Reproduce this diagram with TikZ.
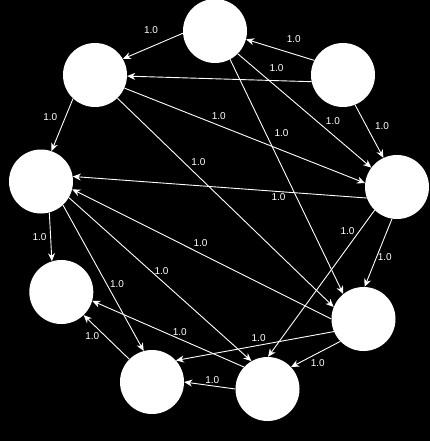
\documentclass[tikz,border=0pt]{standalone}
\usepackage{fontspec}
\setmainfont{Liberation Sans}
\usetikzlibrary{arrows.meta}

\begin{document}
\begin{tikzpicture}[x=1pt, y=-1pt
    ,vertex/.style={circle, fill=white, minimum size=64pt, inner sep=0pt}
    ,lbl/.style={font=\fontsize{10}{12}\selectfont, inner sep=0pt}
    ,arr/.style={white, line width=0.9pt, -{Stealth[length=8pt,width=7pt,inset=2.5pt]}}]
\useasboundingbox (0,0) rectangle (430,441);
\fill[black] (0,0) rectangle (430,441);

\node[vertex] (n1) at (215,31) {};
\node[vertex] (n2) at (95,75) {};
\node[vertex] (n3) at (343,75) {};
\node[vertex] (n4) at (41,181.5) {};
\node[vertex] (n5) at (397,187) {};
\node[vertex] (n6) at (61.3,292) {};
\node[vertex] (n7) at (363.5,319) {};
\node[vertex] (n8) at (152,382) {};
\node[vertex] (n9) at (267.5,389) {};

  \path[arr]
    (n3.153) edge node[lbl, pos=.36, xshift=4pt, yshift=14pt] {1.0} (n1.345)
    (n1.184) edge node[lbl, pos=.43, xshift=-6pt, yshift=14.5pt] {1.0} (n2.30)
    (n3.192) edge node[lbl, pos=.19, yshift=12.5pt] {1.0} (n2.358)
    (n2.227) edge node[lbl, pos=.45, xshift=-13pt, yshift=5pt] {1.0} (n4.71)
    (n2.336) edge node[lbl, pos=.38, xshift=3pt, yshift=8pt] {1.0} (n5.173)
    (n1.315) edge node[lbl, pos=.66, xshift=7pt, yshift=8pt] {1.0} (n5.143)
    (n3.292) edge node[lbl, pos=.53, xshift=12pt, yshift=6.5pt] {1.0} (n5.115)
    (n5.200) edge node[lbl, pos=.30, yshift=-5.5pt] {1.0} (n4.9)
    (n1.298) edge node[lbl, pos=.34, xshift=13pt, yshift=6.5pt] {1.0} (n7.129)
    (n2.314) edge node[lbl, pos=.34, xshift=7.5pt, yshift=7.5pt] {1.0} (n7.158)
    (n5.226) edge node[lbl, pos=.18, xshift=-8pt, yshift=6pt] {1.0} (n9.89)
    (n5.261) edge node[lbl, pos=.52, xshift=7pt, yshift=-3pt] {1.0} (n7.88)
    (n4.285) edge node[lbl, pos=.50, xshift=-11pt] {1.0} (n6.107)
    (n4.313) edge node[lbl, pos=.57, xshift=8pt, yshift=4pt] {1.0} (n8.105)
    (n4.330) edge node[lbl, pos=.48, xshift=5pt, yshift=5.5pt] {1.0} (n9.120)
    (n7.180) edge node[lbl, pos=.52, xshift=4pt, yshift=8pt] {1.0} (n4.346)
    (n7.203) edge node[lbl, pos=.47, xshift=-1pt, yshift=7pt] {1.0} (n8.42)
    (n7.224) edge node[lbl, pos=.54, xshift=4pt, yshift=-7.5pt] {1.0} (n9.43)
    (n9.180) edge node[lbl, pos=.47, xshift=1pt, yshift=5.5pt] {1.0} (n8.0)
    (n8.135) edge node[lbl, pos=.68, xshift=-6pt, yshift=-6.5pt] {1.0} (n6.314)
    (n9.137) edge node[lbl, pos=.44, xshift=2.5pt, yshift=6pt] {1.0} (n6.344)
    ;
\end{tikzpicture}
\end{document}
